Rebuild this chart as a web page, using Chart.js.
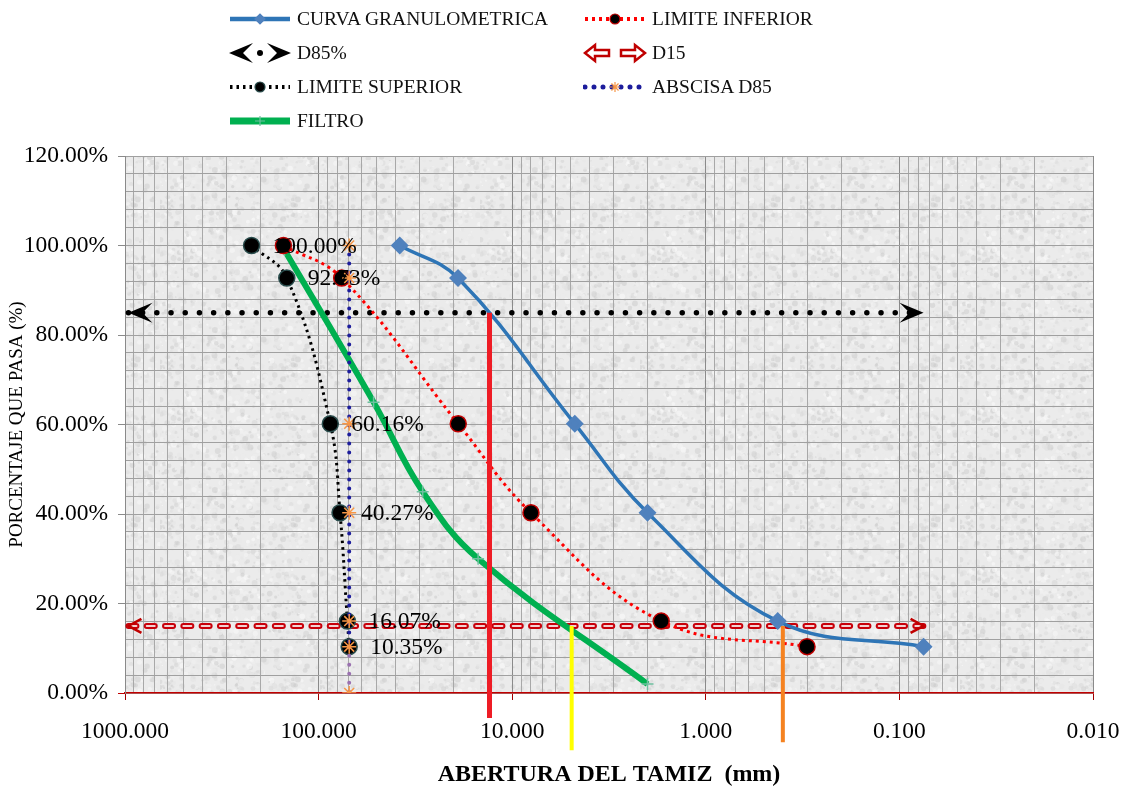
<!DOCTYPE html>
<html>
<head>
<meta charset="utf-8">
<script src="https://cdn.jsdelivr.net/npm/chart.js@4.4.1/dist/chart.umd.min.js"></script>
<style>
  html, body { margin: 0; padding: 0; background: #fff; }
  #wrap { position: relative; width: 1132px; height: 789px; overflow: hidden; }
  #chart { position: absolute; left: 0; top: 0; }
  #legend { position: absolute; left: 0; top: 0; width: 1132px; height: 140px;
            font-family: 'Liberation Serif', 'Times New Roman', serif; font-size: 19.5px; color: #111; }
  .item { position: absolute; display: flex; align-items: center; height: 22px; white-space: nowrap; }
  .item canvas { margin-right: 5px; }
</style>
</head>
<body>
<div id="wrap">
  <canvas id="chart" width="1132" height="789"></canvas>
  <div id="legend"></div>
</div>
<script>
// ---- datos ----
const yPasa    = [100, 92.73, 60.16, 40.27, 16.07, 10.35];      // % que pasa
const xCurva   = [38.1, 19.05, 4.75, 2.0, 0.425, 0.075];         // mm
const xLimInf  = [152, 76, 19, 8, 1.7, 0.3];
const xLimSup  = [222, 146, 87, 77.5, 71, 69.5];
const xFiltro  = [150, 52, 29, 15, 2];
const yFiltro  = [99, 65, 45, 30, 2];
const xD85line = [960, 0.075];
const yD85line = [85, 85];
const xD15line = [960, 0.075];
const yD15line = [15, 15];
const xAbscisa = 69.5;
const yAbscisa = [100, 92.73, 60.16, 40.27, 16.07, 10.35, 0];
const xD85     = 13.1;   const yD85vert  = [85, -5.6];
const xD15F    = 4.93;   const yD15Fvert = [15, -12.8];
const xD15S    = 0.40;   const yD15Svert = [15, -11];
const xTickLabels = [1000, 100, 10, 1, 0.1, 0.01];
const yTickLabels = [0, 20, 40, 60, 80, 100, 120];

const FONT = "'Liberation Serif', 'Times New Roman', serif";
Chart.defaults.font.family = FONT;
Chart.defaults.color = '#000';

function pts(xs, ys) { return xs.map((x, i) => ({ x: x, y: ys[i] })); }
function col(x, ys) { return ys.map(y => ({ x: x, y: y })); }
function isDecade(v) { return xTickLabels.some(t => Math.abs(t - v) < t * 1e-6); }

// fondo tipo granito
function makeTexture(ctx) {
  const c = document.createElement('canvas');
  c.width = 160; c.height = 160;
  const g = c.getContext('2d');
  g.fillStyle = '#ebebeb';
  g.fillRect(0, 0, 160, 160);
  let s = 12345;
  const rnd = () => { s = (s * 16807) % 2147483647; return s / 2147483647; };
  for (let i = 0; i < 1100; i++) {
    const v = Math.floor(200 + rnd() * 55);
    g.fillStyle = 'rgba(' + v + ',' + v + ',' + v + ',0.5)';
    g.beginPath();
    g.arc(rnd() * 160, rnd() * 160, 0.7 + rnd() * 2.3, 0, Math.PI * 2);
    g.fill();
  }
  return ctx.createPattern(c, 'repeat');
}

function stealth(ctx, x, y, dir, color) {
  ctx.save();
  ctx.translate(x, y); ctx.scale(dir, 1);
  ctx.fillStyle = color;
  ctx.beginPath();
  ctx.moveTo(0, 0); ctx.lineTo(-24, -10); ctx.lineTo(-14, 0); ctx.lineTo(-24, 10);
  ctx.closePath(); ctx.fill();
  ctx.restore();
}
function openArrow(ctx, x, y, dir, color) {
  ctx.save();
  ctx.translate(x, y); ctx.scale(dir, 1);
  ctx.strokeStyle = color; ctx.lineWidth = 2.5;
  ctx.beginPath();
  ctx.moveTo(-13, -7); ctx.lineTo(0, 0); ctx.lineTo(-13, 7);
  ctx.stroke();
  ctx.restore();
}
function blockArrow(ctx, x, y, dir) {
  ctx.save();
  ctx.translate(x, y); ctx.scale(dir, 1);
  ctx.beginPath();
  ctx.moveTo(0, 0); ctx.lineTo(-10, -8); ctx.lineTo(-10, -3); ctx.lineTo(-24, -3);
  ctx.lineTo(-24, 3); ctx.lineTo(-10, 3); ctx.lineTo(-10, 8); ctx.closePath();
  ctx.fillStyle = '#fff'; ctx.fill();
  ctx.strokeStyle = '#c00000'; ctx.lineWidth = 2.5; ctx.stroke();
  ctx.restore();
}

const bgPlugin = {
  id: 'bg',
  beforeDraw(chart) {
    const { ctx, chartArea: a } = chart;
    if (!chart.$tex) chart.$tex = makeTexture(ctx);
    ctx.save();
    ctx.fillStyle = chart.$tex;
    ctx.fillRect(a.left, a.top, a.right - a.left, a.bottom - a.top);
    ctx.restore();
  }
};

const extrasPlugin = {
  id: 'extras',
  afterDatasetsDraw(chart) {
    const ctx = chart.ctx;
    chart.data.datasets.forEach((ds, i) => {
      const meta = chart.getDatasetMeta(i);
      const p = meta.data;
      if (ds.arrows === 'stealth') {
        stealth(ctx, p[0].x, p[0].y, -1, '#000');
        stealth(ctx, p[p.length - 1].x, p[p.length - 1].y, 1, '#000');
      } else if (ds.arrows === 'open') {
        openArrow(ctx, p[0].x, p[0].y, -1, '#c00000');
        openArrow(ctx, p[p.length - 1].x, p[p.length - 1].y, 1, '#c00000');
      }
      if (ds.showLabels) {
        ctx.save();
        ctx.font = '23.5px ' + FONT;
        ctx.fillStyle = '#000';
        ctx.textAlign = 'left';
        ctx.textBaseline = 'middle';
        p.forEach((pt, k) => ctx.fillText(yPasa[k].toFixed(2) + '%', pt.x + 21, pt.y + 1));
        ctx.restore();
      }
    });
  }
};

const datasets = [
  { label: 'CURVA GRANULOMETRICA', inLegend: true, data: pts(xCurva, yPasa), order: 5,
    borderColor: '#2e75b6', borderWidth: 3.5, tension: 0.4,
    pointStyle: 'rectRot', pointRadius: 6.5, pointBackgroundColor: '#4f81bd', pointBorderColor: '#4f81bd' },
  { label: 'LIMITE INFERIOR', inLegend: true, data: pts(xLimInf, yPasa), order: 4,
    borderColor: '#ff0000', borderWidth: 3, borderDash: [3, 4], tension: 0.4,
    pointStyle: 'circle', pointRadius: 8, pointBackgroundColor: '#000', pointBorderColor: '#c00000', pointBorderWidth: 1.5 },
  { label: 'D85%', inLegend: true, data: pts(xD85line, yD85line), order: 9, arrows: 'stealth',
    borderColor: '#000', borderWidth: 5.5, borderDash: [0, 14.2], borderCapStyle: 'round', pointRadius: 0 },
  { label: 'D15', inLegend: true, data: pts(xD15line, yD15line), order: 11, arrows: 'open',
    borderColor: '#c8000a', borderWidth: 6, borderDash: [8, 10.3], borderCapStyle: 'round', pointRadius: 0 },
  { label: 'LIMITE SUPERIOR', inLegend: true, data: pts(xLimSup, yPasa), order: 3, showLabels: true,
    borderColor: '#000', borderWidth: 3, borderDash: [2.5, 4], tension: 0.4,
    pointStyle: 'circle', pointRadius: 8, pointBackgroundColor: '#000', pointBorderColor: '#294c4c', pointBorderWidth: 1.5 },
  { label: 'ABSCISA D85', inLegend: true, data: col(xAbscisa, yAbscisa), order: 2,
    borderColor: '#1c1c9c', borderWidth: 4, borderDash: [0, 9], borderCapStyle: 'round',
    segment: { borderColor: c => c.p1DataIndex === yAbscisa.length - 1 ? '#9a70b0' : undefined },
    pointStyle: 'star', pointRadius: 7, pointBorderColor: '#f79646', pointBorderWidth: 1.5 },
  { label: 'FILTRO', inLegend: true, data: pts(xFiltro, yFiltro), order: 6,
    borderColor: '#00b050', borderWidth: 6, tension: 0.4,
    pointStyle: 'cross', pointRadius: 6, pointBorderColor: '#6fc0a0', pointBorderWidth: 1.5 },
  { label: 'D15 interior', data: pts(xD15line, yD15line), order: 10,
    borderColor: '#f3d2d2', borderWidth: 2, borderDash: [8, 10.3], borderCapStyle: 'round', pointRadius: 0 },
  { label: 'D85 suelo', data: col(xD85, yD85vert), order: 1, clip: false,
    borderColor: '#ee1c25', borderWidth: 5, pointRadius: 0 },
  { label: 'D15 filtro', data: col(xD15F, yD15Fvert), order: 1, clip: false,
    borderColor: '#ffff00', borderWidth: 4, pointRadius: 0 },
  { label: 'D15 suelo', data: col(xD15S, yD15Svert), order: 1, clip: false,
    borderColor: '#f58220', borderWidth: 4, pointRadius: 0 }
];

const chart = new Chart(document.getElementById('chart'), {
  type: 'line',
  data: { datasets: datasets },
  options: {
    responsive: false, animation: false, devicePixelRatio: 1, events: [],
    layout: { padding: { top: 156, right: 39, left: 0, bottom: 0 } },
    plugins: { legend: { display: false }, tooltip: { enabled: false } },
    scales: {
      x: {
        type: 'logarithmic', min: 0.01, max: 1000, reverse: true,
        afterBuildTicks: s => {
          const t = [];
          for (let e = -2; e <= 2; e++) for (let m = 1; m <= 9; m++) t.push({ value: +(m * Math.pow(10, e)).toPrecision(6) });
          t.push({ value: 1000 });
          s.ticks = t;
        },
        afterFit: s => { s.height = 96; },
        ticks: { autoSkip: false, maxRotation: 0, padding: 18, font: { size: 23.5 },
                 callback: v => isDecade(v) ? v.toFixed(3) : '' },
        grid: { color: c => c.tick && isDecade(c.tick.value) ? '#8a8a8a' : '#a8a8a8',
                tickColor: c => c.tick && isDecade(c.tick.value) ? '#a00000' : 'transparent', tickLength: 7 },
        border: { color: '#c00000', width: 1.5 },
        title: { display: true, text: 'ABERTURA DEL TAMIZ  (mm)', font: { size: 24, weight: 'bold' }, padding: { top: 0, bottom: 0 } }
      },
      y: {
        min: 0, max: 120,
        afterFit: s => { s.width = 125; },
        ticks: { stepSize: 4, autoSkip: false, padding: 10, font: { size: 23.5 },
                 callback: v => yTickLabels.includes(v) ? v.toFixed(2) + '%' : '' },
        grid: { color: '#a0a0a0',
                tickColor: c => c.tick && c.tick.value === 0 ? '#c00000' : (c.tick && yTickLabels.includes(c.tick.value) ? '#8a8a8a' : 'transparent'),
                tickLength: 7 },
        border: { color: '#8a8a8a' },
        title: { display: true, text: 'PORCENTAJE QUE PASA (%)', font: { size: 19 }, padding: { top: 6, bottom: 0 } }
      }
    }
  },
  plugins: [bgPlugin, extrasPlugin]
});

// ---- leyenda en dos columnas ----
const legendEl = document.getElementById('legend');
chart.data.datasets.filter(d => d.inLegend).forEach((ds, i) => {
  const item = document.createElement('div');
  item.className = 'item';
  item.style.left = (i % 2 === 0 ? 228 : 583) + 'px';
  item.style.top = (8 + Math.floor(i / 2) * 34) + 'px';
  const cv = document.createElement('canvas');
  cv.width = 64; cv.height = 22;
  const g = cv.getContext('2d');
  const cy = 11;
  if (ds.arrows === 'stealth') {
    stealth(g, 1, cy, -1, '#000');
    stealth(g, 63, cy, 1, '#000');
    g.fillStyle = '#000'; g.beginPath(); g.arc(32, cy, 3, 0, Math.PI * 2); g.fill();
  } else if (ds.arrows === 'open') {
    blockArrow(g, 2, cy, -1);
    blockArrow(g, 62, cy, 1);
  } else {
    g.strokeStyle = ds.borderColor;
    g.lineWidth = ds.borderWidth + 1;
    g.setLineDash(ds.borderDash || []);
    g.lineCap = ds.borderCapStyle || 'butt';
    g.beginPath(); g.moveTo(2, cy); g.lineTo(62, cy); g.stroke();
    g.setLineDash([]);
    g.lineCap = 'butt';
    g.lineWidth = 1.2;
    g.fillStyle = ds.pointBackgroundColor || 'rgba(0,0,0,0)';
    g.strokeStyle = ds.pointBorderColor;
    Chart.helpers.drawPoint(g, { pointStyle: ds.pointStyle, radius: Math.min(ds.pointRadius, 5), rotation: 0, borderWidth: 1.2 }, 32, cy);
  }
  item.appendChild(cv);
  const span = document.createElement('span');
  span.textContent = ds.label;
  item.appendChild(span);
  legendEl.appendChild(item);
});
</script>
</body>
</html>
